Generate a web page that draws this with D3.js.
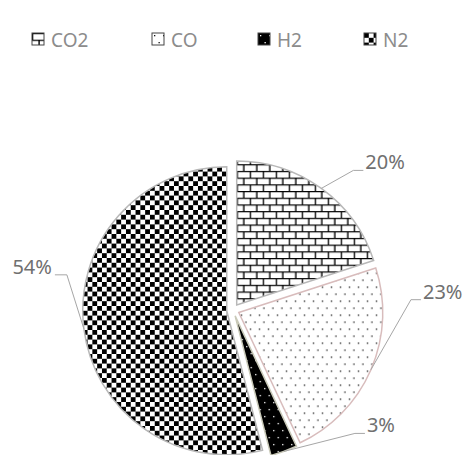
<!DOCTYPE html>
<html>
<head>
<meta charset="utf-8">
<script src="https://cdn.jsdelivr.net/npm/d3@7/dist/d3.min.js"></script>
<style>
  body { margin: 0; background: #fff; }
  text { font-family: "Noto Sans", "Open Sans", sans-serif; }
</style>
</head>
<body>
<div id="chart"></div>
<script>
// data
var gases = ["CO2", "CO", "H2", "N2"];
var shares = [20, 23, 3, 54];
var labels = ["20%", "23%", "3%", "54%"];

var width = 463, height = 455;
var cx = 233, cy = 310, radius = 144, explode = 6.3;

// legend swatch x positions (excel spaces them by text width)
var legendPos = [32, 152, 258, 364];

// where each label sits, relative to the point where its leader meets the pie
var labelLayout = [
    {dx: 42, dy: -18, anchor: "start"},
    {dx: 50, dy: -70, anchor: "start"},
    {dx: 81, dy: -18, anchor: "start"},
    {dx: -29, dy: -54, anchor: "end"}
];

var svg = d3.select("#chart")
    .append("svg")
    .attr("width", width)
    .attr("height", height);

var defs = svg.append("defs");

// brick pattern for CO2
var brick = defs.append("pattern")
    .attr("id", "pat0")
    .attr("patternUnits", "userSpaceOnUse")
    .attr("width", 13).attr("height", 13.4);
brick.append("rect").attr("width", 13).attr("height", 13.4).attr("fill", "#fff");
brick.append("path")
    .attr("d", "M0,0.6H13M0,7.3H13M0.6,0V6.7M7.1,6.7V13.4")
    .attr("stroke", "#000").attr("stroke-width", 1.4).attr("fill", "none");

// dots for CO
var dots = defs.append("pattern")
    .attr("id", "pat1")
    .attr("patternUnits", "userSpaceOnUse")
    .attr("width", 9).attr("height", 14);
dots.append("rect").attr("width", 9).attr("height", 14).attr("fill", "#fff");
dots.append("rect").attr("x", 2).attr("y", 2).attr("width", 1.3).attr("height", 1.3).attr("fill", "#111");
dots.append("rect").attr("x", 6.5).attr("y", 9).attr("width", 1.3).attr("height", 1.3).attr("fill", "#111");

// white dots on black for H2
var wdots = defs.append("pattern")
    .attr("id", "pat2")
    .attr("patternUnits", "userSpaceOnUse")
    .attr("width", 9).attr("height", 14);
wdots.append("rect").attr("width", 9).attr("height", 14).attr("fill", "#000");
wdots.append("rect").attr("x", 2).attr("y", 2).attr("width", 1.3).attr("height", 1.3).attr("fill", "#fff");
wdots.append("rect").attr("x", 6.5).attr("y", 9).attr("width", 1.3).attr("height", 1.3).attr("fill", "#fff");

// checkerboard for N2
var check = defs.append("pattern")
    .attr("id", "pat3")
    .attr("patternUnits", "userSpaceOnUse")
    .attr("width", 9.6).attr("height", 9.6);
check.append("rect").attr("width", 9.6).attr("height", 9.6).attr("fill", "#fff");
check.append("rect").attr("width", 4.8).attr("height", 4.8).attr("fill", "#000");
check.append("rect").attr("x", 4.8).attr("y", 4.8).attr("width", 4.8).attr("height", 4.8).attr("fill", "#000");

var strokes = ["#b8b8b8", "#d8bcbc", "#c9c9b8", "#b8b8b8"];

var pie = d3.pie().sort(null).value(function(d) { return d; });
var arcs = pie(shares);

var arc = d3.arc().innerRadius(0).outerRadius(radius);

function dir(d) {
    var a = (d.startAngle + d.endAngle) / 2;
    return [Math.sin(a), -Math.cos(a)];
}

var g = svg.append("g").attr("transform", "translate(" + cx + "," + cy + ")");

g.selectAll("path.slice")
    .data(arcs)
    .enter()
    .append("path")
    .attr("class", "slice")
    .attr("d", arc)
    .attr("transform", function(d) {
        var v = dir(d);
        return "translate(" + (v[0] * explode) + "," + (v[1] * explode) + ")";
    })
    .attr("fill", function(d, i) { return "url(#pat" + i + ")"; })
    .attr("stroke", function(d, i) { return strokes[i]; })
    .attr("stroke-width", 1.5);

// leader lines and labels
arcs.forEach(function(d, i) {
    var v = dir(d);
    var px = v[0] * (radius + explode), py = v[1] * (radius + explode);
    var lay = labelLayout[i];
    var lx = px + lay.dx, ly = py + lay.dy;
    var ex = lay.anchor == "start" ? lx - 10 : lx + 12;
    var tx = lay.anchor == "start" ? lx + 2 : lx - 3;
    g.append("polyline")
        .attr("points", [[px, py], [ex, ly], [lx, ly]].map(function(p) { return p.join(","); }).join(" "))
        .attr("fill", "none")
        .attr("stroke", "#a6a6a6")
        .attr("stroke-width", 1);
    g.append("text")
        .attr("x", tx)
        .attr("y", ly - 1)
        .attr("text-anchor", lay.anchor)
        .attr("font-size", 20)
        .attr("fill", "#707070")
        .text(labels[i]);
});

// legend
var legend = svg.append("g").selectAll("g")
    .data(gases)
    .enter()
    .append("g")
    .attr("transform", function(d, i) { return "translate(" + legendPos[i] + ",33)"; });

legend.append("rect")
    .attr("width", 12).attr("height", 12)
    .attr("fill", function(d, i) { return "url(#pat" + i + ")"; })
    .attr("stroke", "#444").attr("stroke-width", 1);

legend.append("text")
    .attr("x", 19)
    .attr("y", 13.5)
    .attr("font-size", 19)
    .attr("fill", "#8c8c8c")
    .text(function(d) { return d; });
</script>
</body>
</html>
